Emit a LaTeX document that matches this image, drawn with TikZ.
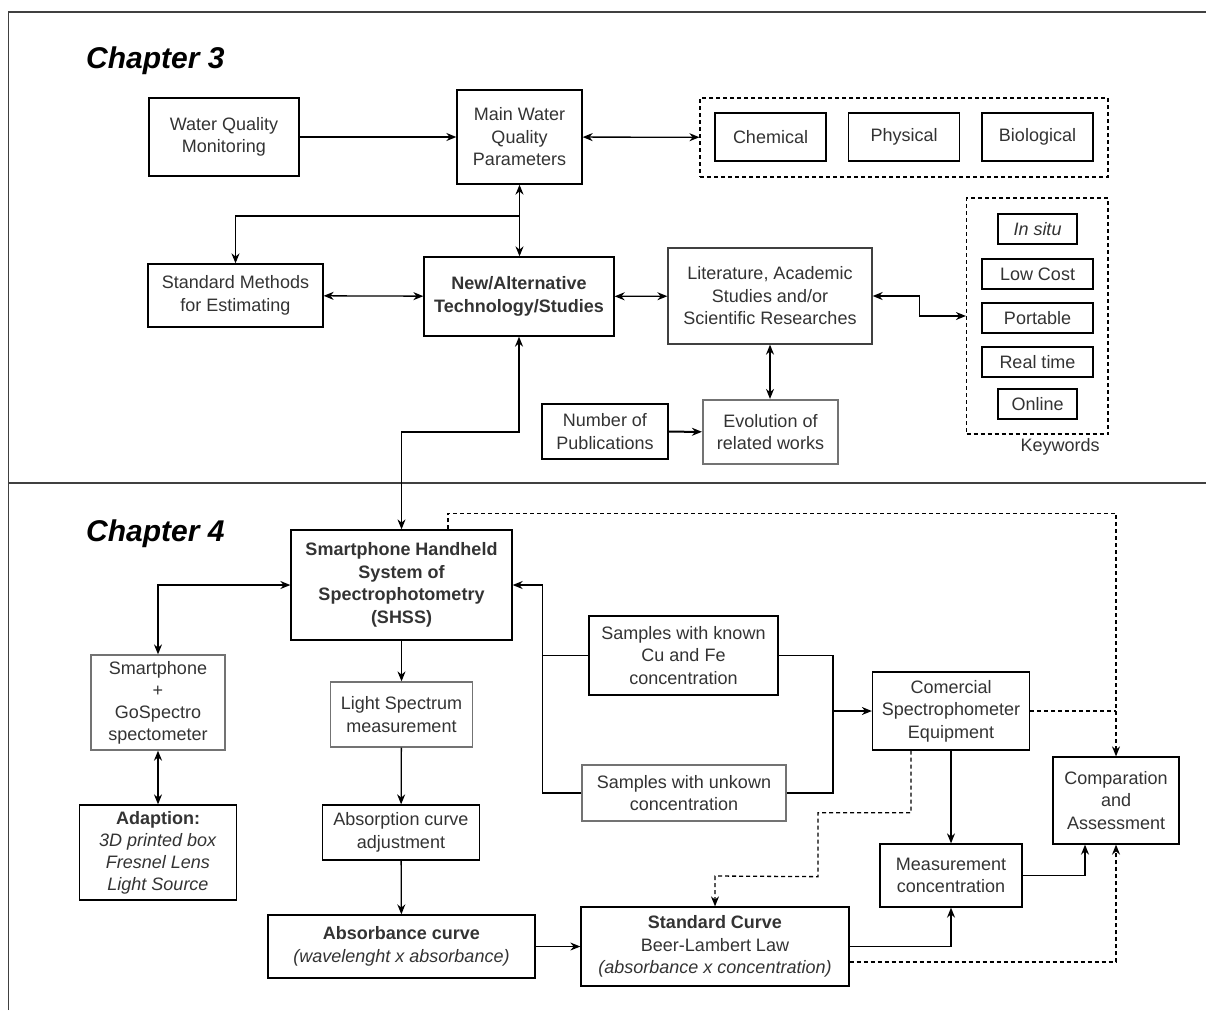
\documentclass[tikz,border=0pt]{standalone}
\usepackage{fontspec}
\setmainfont{Liberation Sans}
\usetikzlibrary{arrows.meta}
\tikzset{
  bx/.style={draw=black, line width=1.3pt, fill=white, align=center, inner sep=0pt, text=black!80, font=\fontsize{18}{22.5}\selectfont},
  gbx/.style={bx, draw=black!55},
  grp/.style={draw=black, dash pattern=on 4pt off 3pt, line width=1.2pt, inner sep=0pt},
  ln/.style={draw=black, line width=1.3pt},
  ar/.style={ln, -{Stealth[length=10pt,width=8pt]}},
  bar/.style={ln, {Stealth[length=10pt,width=8pt]}-{Stealth[length=10pt,width=8pt]}},
  dsh/.style={ln, dash pattern=on 4pt off 3pt},
  dar/.style={ar, dash pattern=on 4pt off 3pt},
  chap/.style={font=\fontsize{30}{36}\selectfont\bfseries\itshape, anchor=base west, inner sep=0pt},
  frm/.style={draw=black!75, line width=1.5pt}
}

\begin{document}
\begin{tikzpicture}[x=1pt, y=-1pt]
  \useasboundingbox (0,0) rectangle (1206,1010);
  % frame
  \draw[frm] (8.5,1010) -- (8.5,12) -- (1206,12);
  \draw[frm] (8.5,483) -- (1206,483);

  % chapter 3
  \node[chap] (ch3) at (86,68) {Chapter 3};
  \node[bx, minimum width=150pt, minimum height=78pt] (wqm) at (224,137) {Water Quality\\Monitoring};
  \node[bx, minimum width=125pt, minimum height=94pt] (mwq) at (519.5,137) {Main Water\\Quality\\Parameters};
  \node[grp, minimum width=408pt, minimum height=79pt] (pgrp) at (904,137.5) {};
  \node[bx, minimum width=111pt, minimum height=48pt] (chem) at (770.5,137) {Chemical};
  \node[bx, minimum width=111pt, minimum height=48pt] (phys) at (904,137) {Physical};
  \node[bx, minimum width=111pt, minimum height=48pt] (bio) at (1037.5,137) {Biological};
  \node[bx, minimum width=175pt, minimum height=63pt] (std) at (235.5,295.5) {Standard Methods\\for Estimating};
  \node[bx, minimum width=190pt, minimum height=79pt, font=\fontsize{18}{22.5}\selectfont\bfseries] (newt) at (519,296.5) {New/Alternative\\Technology/Studies};
  \node[bx, draw=black!75, minimum width=204pt, minimum height=96pt] (lit) at (770,296) {Literature, Academic\\Studies and/or\\Scientific Researches};
  \node[grp, minimum width=141.5pt, minimum height=236pt] (kwbox) at (1037.25,316) {};
  \node[bx, minimum width=79pt, minimum height=30pt, font=\fontsize{18}{22.5}\selectfont\itshape] (insitu) at (1037.5,229) {In situ};
  \node[bx, minimum width=111pt, minimum height=30pt] (lowc) at (1037.5,274) {Low Cost};
  \node[bx, minimum width=111pt, minimum height=30pt] (port) at (1037.5,318) {Portable};
  \node[bx, minimum width=111pt, minimum height=30pt] (rtime) at (1037.5,362) {Real time};
  \node[bx, minimum width=79pt, minimum height=30pt] (onl) at (1037.5,404) {Online};
  \node[text=black!80, font=\fontsize{18}{22.5}\selectfont, inner sep=0pt] (kwlbl) at (1060,447) {Keywords};
  \node[bx, minimum width=126pt, minimum height=55pt] (npub) at (605,431.5) {Number of\\Publications};
  \node[gbx, line width=2.2pt, minimum width=135pt, minimum height=64pt] (evol) at (770.5,432) {Evolution of\\related works};

  % chapter 3 links
  \draw[ar] (wqm) -- (mwq);
  \draw[bar] (mwq) -- (pgrp);
  \draw[bar] (mwq.south) -- (mwq.south |- newt.north);
  \coordinate (br) at (519.5,216);
  \draw[ar] (br) -| (std.north);
  \draw[bar] (std) -- (newt);
  \draw[bar] (newt) -- (lit);
  \draw[bar] (lit.east) -- ++(46.5,0) |- (kwbox.west);
  \draw[bar] (lit.south) -- (lit.south |- evol.north);
  \draw[ln, line width=2pt, -{Stealth[length=10pt,width=8pt]}] (npub) -- (evol);

  % chapter 4
  \node[chap] (ch4) at (86,541) {Chapter 4};
  \node[bx, minimum width=221pt, minimum height=110pt, font=\fontsize{18}{22.5}\selectfont\bfseries] (shss) at (401.5,585) {Smartphone Handheld\\System of\\Spectrophotometry\\(SHSS)};
  \node[gbx, minimum width=134pt, minimum height=95pt, font=\fontsize{18}{22}\selectfont] (smart) at (158,702.5) {Smartphone\\+\\GoSpectro\\spectometer};
  \node[bx, minimum width=157pt, minimum height=95pt, font=\fontsize{18}{22}\selectfont] (adapt) at (158,852.5) {\textbf{Adaption:}\\\textit{3D printed box}\\\textit{Fresnel Lens}\\\textit{Light Source}};
  \node[gbx, minimum width=142pt, minimum height=65pt] (light) at (401.5,714.5) {Light Spectrum\\measurement};
  \node[bx, minimum width=157pt, minimum height=55pt] (absadj) at (401,832.5) {Absorption curve\\adjustment};
  \node[bx, minimum width=267pt, minimum height=63pt] (absc) at (401.5,946.5) {\textbf{Absorbance curve}\\\textit{(wavelenght x absorbance)}};
  \node[bx, minimum width=189pt, minimum height=79pt] (known) at (683.5,655.5) {Samples with known\\Cu and Fe\\concentration};
  \node[gbx, minimum width=204pt, minimum height=56pt] (unk) at (684,793) {Samples with unkown\\concentration};
  \node[bx, minimum width=157pt, minimum height=78pt] (comsp) at (951,711) {Comercial\\Spectrophometer\\Equipment};
  \node[bx, minimum width=142pt, minimum height=63pt] (meas) at (951,875.5) {Measurement\\concentration};
  \node[bx, minimum width=268pt, minimum height=79pt] (stdc) at (715,946.5) {\textbf{Standard Curve}\\Beer-Lambert Law\\\textit{(absorbance x concentration)}};
  \node[bx, minimum width=126pt, minimum height=87pt] (comp) at (1116,800.5) {Comparation\\and\\Assessment};

  % chapter 4 links
  \coordinate (jn) at (519,432);
  \draw[bar] (shss.north) |- (jn) -- (newt.south);
  \draw[dar] ([xshift=46.5pt]shss.north) -- ++(0,-16) -| (comp.north);
  \draw[bar] (shss.west) -| (smart.north);
  \draw[bar] (smart) -- (adapt);
  \draw[ar] (shss) -- (light);
  \draw[ar] (light) -- (absadj);
  \draw[ar] (absadj) -- (absc);
  \coordinate (lbus) at (542.5,585);
  \draw[ar] (unk.west) -| (lbus) -- (shss.east);
  \draw[ln] (known.west) -- (known.west -| lbus);
  \coordinate (rbus) at (833,711);
  \draw[ln] (known.east) -| (rbus);
  \draw[ln] (unk.east) -| (rbus);
  \draw[ar] (rbus) -- (comsp.west);
  \draw[dsh] (comsp.east) -- (comsp.east -| comp.north);
  \draw[ar] (comsp) -- (meas);
  \draw[dar] ([xshift=-40pt]comsp.south) -- ++(0,62) -- ++(-93,0) -- ++(0,64) -- (stdc.north |- 0,876) -- (stdc.north);
  \draw[ar] (absc) -- (stdc);
  \draw[ar] (stdc.east) -| (meas.south);
  \draw[dar] ([yshift=-15.5pt]stdc.east) -| (comp.south);
  \draw[ar] (meas.east) -| ([xshift=-31pt]comp.south);
\end{tikzpicture}
\end{document}
